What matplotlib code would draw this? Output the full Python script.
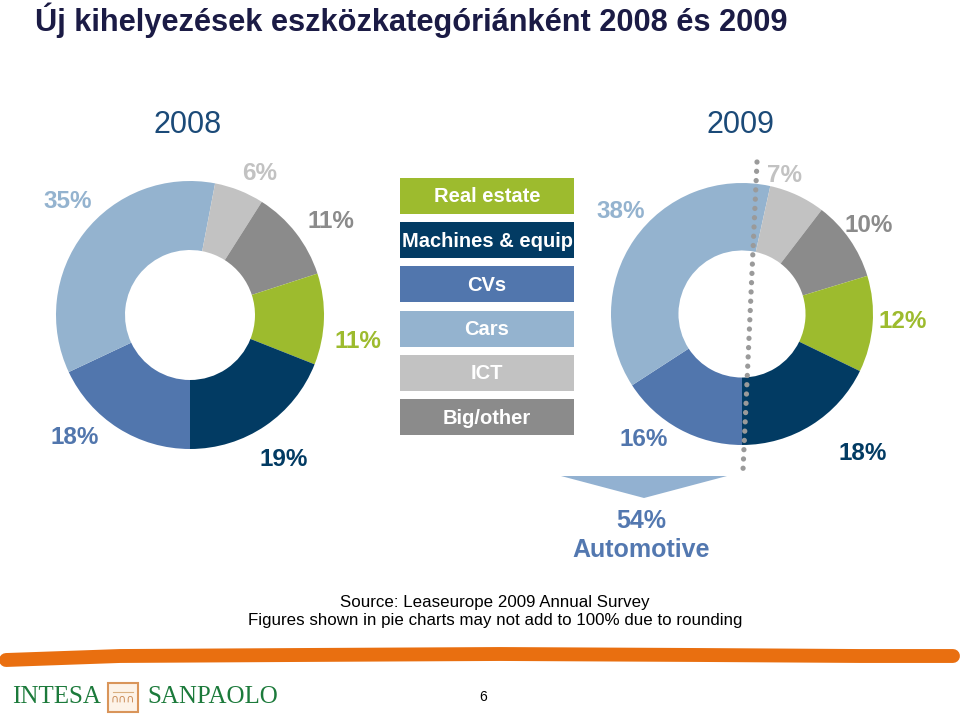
import numpy as np
import matplotlib.pyplot as plt
from matplotlib.patches import Rectangle, Polygon

plt.rcParams['font.family'] = ['Liberation Sans', 'DejaVu Sans']

# adatok
categories = ['Real estate', 'Machines & equip', 'CVs', 'Cars', 'ICT', 'Big/other']
share_2008 = [11, 19, 18, 35, 6, 11]
share_2009 = [12, 18, 16, 38, 7, 10]
automotive_2009 = 54

colors = {'Real estate': '#9dbb2e', 'Machines & equip': '#023b63', 'CVs': '#5176ad',
          'Cars': '#94b3cf', 'ICT': '#c2c2c2', 'Big/other': '#8b8b8b'}
pie_order = ['CVs', 'Cars', 'ICT', 'Big/other', 'Real estate', 'Machines & equip']

W, H = 960, 718
fig = plt.figure(figsize=(9.6, 7.18), dpi=100)
ax = fig.add_axes([0, 0, 1, 1])
renderer = fig.canvas.get_renderer()


def Y(y):
    return H - y


def fit_width(t, target):
    # szöveg méretezése a kívánt pixelszélességre
    w = t.get_window_extent(renderer).width
    t.set_fontsize(t.get_fontsize() * target / w)


def donut(values, cx, cy, r, label_xy, year):
    vals = [values[categories.index(c)] for c in pie_order]
    cols = [colors[c] for c in pie_order]
    ax.pie(vals, colors=cols, startangle=270, counterclock=False,
           center=(cx, Y(cy)), radius=r,
           wedgeprops=dict(width=r * 0.515, linewidth=0))
    for c, v, (lx, ly) in zip(pie_order, vals, label_xy):
        ax.text(lx, Y(ly), f'{v}%', color=colors[c], fontsize=17.5,
                fontweight='bold', ha='center', va='center')
    ax.text(cx - 2, Y(125), year, color='#1b4a78', fontsize=22,
            ha='center', va='center')


# címkék helye (CVs, Cars, ICT, Big/other, Real estate, Machines)
labels_2008 = [(75, 438), (68, 201), (260, 173), (331, 222), (358, 341), (284, 459)]
labels_2009 = [(644, 440), (621, 211), (785, 176), (869, 225), (903, 321), (863, 453)]

donut(share_2008, 190, 315, 134, labels_2008, '2008')
donut(share_2009, 742, 314, 131, labels_2009, '2009')

ax.set_xlim(0, W)
ax.set_ylim(0, H)
ax.set_aspect('auto')
ax.axis('off')

# pontozott vonal
ax.plot([757, 743], [Y(162), Y(470)], color='#9a9a9a', lw=3.8,
        linestyle=(0, (0.01, 1.75)), dash_capstyle='round', zorder=5)

# jelmagyarázat dobozok
for i, c in enumerate(categories):
    top = 178 + i * 44.2
    ax.add_patch(Rectangle((400, Y(top + 36)), 174, 36, color=colors[c], lw=0))
    ax.text(487, Y(top + 19), c, color='white', fontsize=14.5, fontweight='bold',
            ha='center', va='center')

# nyíl és Automotive felirat
ax.add_patch(Polygon([(561, Y(476)), (727, Y(476)), (644, Y(498))],
                     closed=True, color='#92b1d1', lw=0))
ax.text(641, Y(521), f'{automotive_2009}%', color='#5378b0', fontsize=18,
        fontweight='bold', ha='center', va='center')
ax.text(641, Y(550), 'Automotive', color='#5378b0', fontsize=18,
        fontweight='bold', ha='center', va='center')

# cím
title = ax.text(35, Y(20), 'Új kihelyezések eszközkategóriánként 2008 és 2009',
                color='#1b1b45', fontsize=22, fontweight='bold', ha='left', va='center')
fit_width(title, 752)

# forrás
src1 = ax.text(495, Y(602), 'Source: Leaseurope 2009 Annual Survey', fontsize=11,
               ha='center', va='center')
src2 = ax.text(495, Y(621), 'Figures shown in pie charts may not add to 100% due to rounding',
               fontsize=11, ha='center', va='center')
fit_width(src2, 491)
src1.set_fontsize(src2.get_fontsize())

# narancs ecsetvonás
ax.plot([6, 120, 300, 500, 700, 860, 953], [Y(660), Y(656), Y(655), Y(654), Y(655), Y(656), Y(656)],
        color='#e96f10', lw=10, solid_capstyle='round')

# logó
ax.text(12, Y(697), 'INTESA', color='#1c7a3b', fontsize=18,
        family='Liberation Serif', ha='left', va='center')
ax.add_patch(Rectangle((108, Y(712)), 30, 29, facecolor='#fdf3e8',
                       edgecolor='#d9955a', lw=1.5))
ax.text(123, Y(699), '∩∩∩', color='#c98a55', fontsize=8, ha='center', va='center',
        family='DejaVu Sans')
ax.plot([113, 133], [Y(692), Y(692)], color='#d9b080', lw=0.8)
ax.text(147, Y(697), 'SANPAOLO', color='#1c7a3b', fontsize=18,
        family='Liberation Serif', ha='left', va='center')

ax.text(483, Y(697), '6', fontsize=10, ha='center', va='center')

fig.savefig('out.png', dpi=100, facecolor='white')
